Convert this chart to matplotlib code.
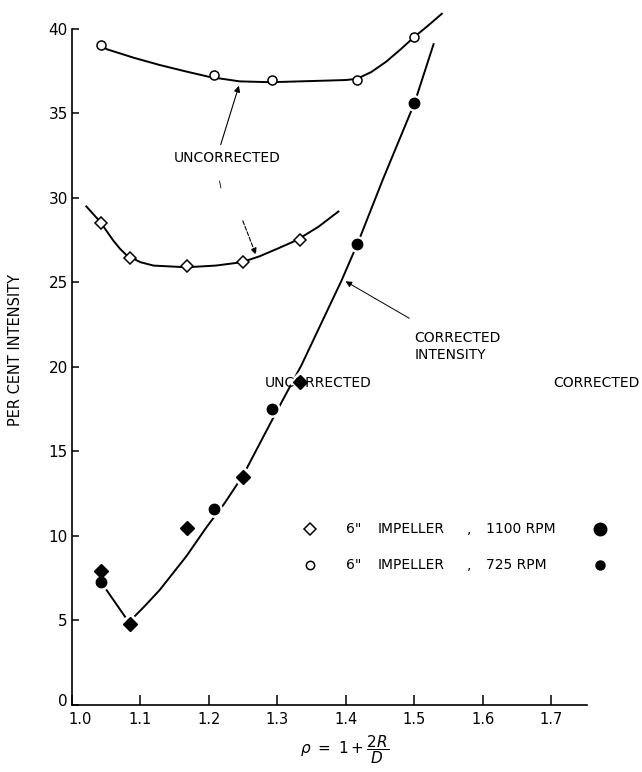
import numpy as np
import matplotlib
matplotlib.use('Agg')
import matplotlib.pyplot as plt
import matplotlib.transforms as mtransforms

plt.rcParams['font.family'] = ['DejaVu Sans']
plt.rcParams['mathtext.fontset'] = 'dejavusans'

# measured points (uncorrected, open markers)
x_1100 = [1.042, 1.085, 1.168, 1.250, 1.333]
y_1100_unc = [28.5, 26.45, 26.0, 26.2, 27.5]
x_725 = [1.042, 1.207, 1.292, 1.416, 1.499]
y_725_unc = [39.05, 37.3, 37.0, 37.0, 39.5]

# corrected values (filled markers)
y_1100_cor = [7.9, 4.8, 10.5, 13.5, 19.1]
y_725_cor = [7.3, 11.6, 17.5, 27.3, 35.6]

# hand drawn curves
curve_725_x = [1.042, 1.051, 1.090, 1.128, 1.165, 1.201, 1.245, 1.290, 1.333, 1.375, 1.400, 1.416, 1.437, 1.459, 1.480, 1.499, 1.520, 1.540]
curve_725_y = [39.05, 38.8, 38.3, 37.87, 37.5, 37.16, 36.9, 36.85, 36.9, 36.95, 36.98, 37.05, 37.45, 38.07, 38.8, 39.5, 40.2, 40.9]

curve_1100_x = [1.021, 1.041, 1.060, 1.070, 1.080, 1.100, 1.119, 1.167, 1.210, 1.248, 1.274, 1.300, 1.328, 1.360, 1.389]
curve_1100_y = [29.5, 28.6, 27.5, 27.0, 26.6, 26.2, 26.0, 25.9, 26.0, 26.2, 26.55, 27.0, 27.5, 28.3, 29.2]

curve_cor_x = [1.042, 1.083, 1.105, 1.128, 1.167, 1.197, 1.223, 1.250, 1.294, 1.335, 1.394, 1.418, 1.454, 1.500, 1.528]
curve_cor_y = [7.3, 4.9, 5.8, 6.8, 8.8, 10.55, 11.95, 13.6, 17.0, 20.1, 25.15, 27.4, 31.1, 35.6, 39.1]

x_ticks = [1.0, 1.1, 1.2, 1.3, 1.4, 1.5, 1.6, 1.7]
x_tick_labels = ['1.0', '1.1', '1.2', '1.3', '1.4', '1.5', '1.6', '1.7']
y_ticks = [0, 5, 10, 15, 20, 25, 30, 35, 40]
y_tick_labels = ['0', '5', '10', '15', '20', '25', '30', '35', '40']

# legend rows
legend_y = [10.4, 8.3]
legend_labels = ['1100 RPM', '725 RPM']

fig = plt.figure(figsize=(6.42, 7.72), dpi=100)
ax = fig.add_axes([0.1121, 0.0868, 0.8022, 0.9085])

lw = 1.4
ax.plot(curve_725_x, curve_725_y, color='black', lw=lw, zorder=2)
ax.plot(curve_1100_x, curve_1100_y, color='black', lw=lw, zorder=2)
ax.plot(curve_cor_x, curve_cor_y, color='black', lw=lw, zorder=2)

# open markers
ax.plot(x_725, y_725_unc, 'o', ms=6.5, mfc='white', mec='black', mew=1.1, zorder=3)
ax.plot(x_1100, y_1100_unc, 'D', ms=6, mfc='white', mec='black', mew=1.1, zorder=3)

# filled markers, with white halo to break the line
ax.plot(x_725, y_725_cor, 'o', ms=11, color='white', zorder=3)
ax.plot(x_1100, y_1100_cor, 'D', ms=11, color='white', zorder=3)
ax.plot(x_725, y_725_cor, 'o', ms=7.5, color='black', zorder=4)
ax.plot(x_1100, y_1100_cor, 'D', ms=7.5, color='black', zorder=4)

# annotations
ax.annotate('', xy=(1.245, 36.8), xytext=(1.216, 33.0),
            arrowprops=dict(arrowstyle='-|>', color='black', lw=0.8, mutation_scale=9))
ax.text(1.226, 32.35, 'UNCORRECTED', fontsize=10, ha='center', va='center')
ax.annotate('', xy=(1.270, 26.5), xytext=(1.248, 28.8),
            arrowprops=dict(arrowstyle='-|>', color='black', lw=0.8, ls='--', mutation_scale=9))
ax.plot([1.2155, 1.2175], [31.0, 30.6], color='black', lw=0.6)

ax.annotate('', xy=(1.396, 25.15), xytext=(1.496, 22.8),
            arrowprops=dict(arrowstyle='-|>', color='black', lw=0.7, mutation_scale=9))
ax.text(1.500, 21.2, 'CORRECTED\nINTENSITY', fontsize=10, ha='left', va='center', linespacing=1.3)

# legend drawn by hand
ax.text(1.282, 19.05, 'UNCORRECTED', fontsize=10, ha='left', va='center')
ax.text(1.829, 19.05, 'CORRECTED', fontsize=10, ha='right', va='center', clip_on=False)
ax.plot([1.347], [legend_y[0]], 'D', ms=6.5, mfc='white', mec='black', mew=1.1)
ax.plot([1.347], [legend_y[1]], 'o', ms=6, mfc='white', mec='black', mew=1.1)
ax.plot([1.771], [legend_y[0]], 'o', ms=9, color='black', clip_on=False)
ax.plot([1.771], [legend_y[1]], 'o', ms=6.5, color='black', clip_on=False)
for yy, lab in zip(legend_y, legend_labels):
    ax.text(1.400, yy, '6"', fontsize=10, va='center')
    ax.text(1.447, yy, 'IMPELLER', fontsize=10, va='center')
    ax.text(1.577, yy, ',', fontsize=10, va='center')
    ax.text(1.604, yy, lab, fontsize=10, va='center')

ax.set_xlim(1.0, 1.752)
ax.set_ylim(0, 41.5)
ax.spines['top'].set_visible(False)
ax.spines['right'].set_visible(False)
ax.spines['left'].set_bounds(0, 40)
ax.spines['left'].set_linewidth(1.2)
ax.spines['bottom'].set_linewidth(1.2)

ax.set_xticks(x_ticks)
ax.set_xticklabels(x_tick_labels, fontsize=10.5)
ax.set_yticks(y_ticks)
ax.set_yticklabels(y_tick_labels, fontsize=11)
ax.tick_params(axis='x', direction='in', length=7, width=1.1, pad=5)
ax.tick_params(axis='y', direction='in', length=5, width=1.1, pad=3)

# nudge the corner labels apart like in the original
first = ax.get_xticklabels()[0]
first.set_transform(first.get_transform() + mtransforms.ScaledTranslation(8 / 100, 0, fig.dpi_scale_trans))
zero = ax.get_yticklabels()[0]
zero.set_transform(zero.get_transform() + mtransforms.ScaledTranslation(0, 5 / 100, fig.dpi_scale_trans))

ax.text(-0.110, 0.506, 'PER CENT INTENSITY', transform=ax.transAxes, rotation=90,
        fontsize=10.5, ha='center', va='center')
ax.text(0.53, -0.063, r'$\rho\ =\ 1 + \dfrac{2R}{D}$', transform=ax.transAxes,
        fontsize=11, ha='center', va='center')

plt.savefig('out.png', dpi=100)
